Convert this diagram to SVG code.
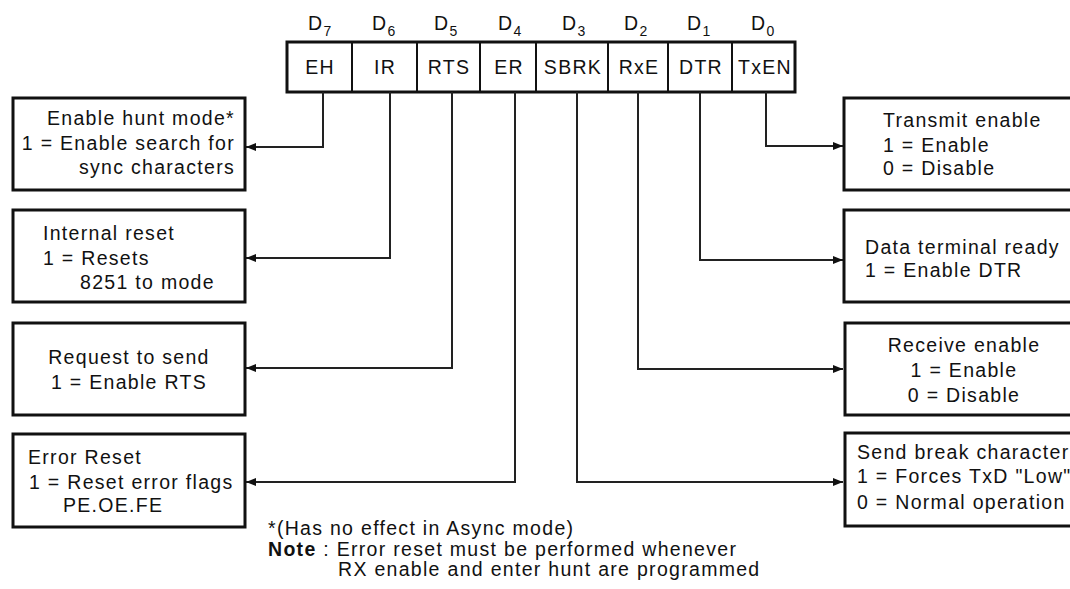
<svg xmlns="http://www.w3.org/2000/svg" width="1070" height="589" viewBox="0 0 1070 589">
<style>
text{font-family:"Liberation Sans",Arial,sans-serif;font-size:19.5px;letter-spacing:1.3px;fill:#111}
.sub{font-size:14px;letter-spacing:0}
.box{fill:#fff;stroke:#111;stroke-width:3}
.div{stroke:#111;stroke-width:2}
.conn{fill:none;stroke:#222;stroke-width:2}
.m{text-anchor:middle}
.e{text-anchor:end}
.b{font-weight:bold}
</style>
<defs>
<marker id="ah" viewBox="0 0 10 8" refX="10" refY="4" markerWidth="10" markerHeight="8" markerUnits="userSpaceOnUse" orient="auto">
<path d="M0,0 L10,4 L0,8 z" fill="#111"/>
</marker>
</defs>
<rect width="1070" height="589" fill="#fff"/>

<g id="register">
<rect class="box" x="287" y="42" width="508" height="50"/>
<line class="div" x1="352" y1="42" x2="352" y2="92"/>
<line class="div" x1="417" y1="42" x2="417" y2="92"/>
<line class="div" x1="480" y1="42" x2="480" y2="92"/>
<line class="div" x1="536" y1="42" x2="536" y2="92"/>
<line class="div" x1="608" y1="42" x2="608" y2="92"/>
<line class="div" x1="668" y1="42" x2="668" y2="92"/>
<line class="div" x1="732" y1="42" x2="732" y2="92"/>
<text class="m" x="320" y="74">EH</text>
<text class="m" x="385" y="74">IR</text>
<text class="m" x="449" y="74">RTS</text>
<text class="m" x="509" y="74">ER</text>
<text class="m" x="573" y="74">SBRK</text>
<text class="m" x="639" y="74">RxE</text>
<text class="m" x="701" y="74">DTR</text>
<text class="m" x="765" y="74">TxEN</text>
<text x="308" y="30">D<tspan class="sub" dx="0" dy="6">7</tspan></text>
<text x="372" y="30">D<tspan class="sub" dx="0" dy="6">6</tspan></text>
<text x="434" y="30">D<tspan class="sub" dx="0" dy="6">5</tspan></text>
<text x="498" y="30">D<tspan class="sub" dx="0" dy="6">4</tspan></text>
<text x="562" y="30">D<tspan class="sub" dx="0" dy="6">3</tspan></text>
<text x="624" y="30">D<tspan class="sub" dx="0" dy="6">2</tspan></text>
<text x="687" y="30">D<tspan class="sub" dx="0" dy="6">1</tspan></text>
<text x="751" y="30">D<tspan class="sub" dx="0" dy="6">0</tspan></text>
</g>

<g id="connectors">
<path class="conn" d="M323,92 V147 H246" marker-end="url(#ah)"/>
<path class="conn" d="M390,92 V258 H246" marker-end="url(#ah)"/>
<path class="conn" d="M452,92 V368 H246" marker-end="url(#ah)"/>
<path class="conn" d="M515,92 V482 H246" marker-end="url(#ah)"/>
<path class="conn" d="M577,92 V482 H843" marker-end="url(#ah)"/>
<path class="conn" d="M638,92 V369 H843" marker-end="url(#ah)"/>
<path class="conn" d="M700,92 V260 H843" marker-end="url(#ah)"/>
<path class="conn" d="M766,92 V146 H843" marker-end="url(#ah)"/>
</g>

<g id="eh-box">
<rect class="box" x="13" y="98" width="232" height="92"/>
<text class="e" x="235" y="125">Enable hunt mode*</text>
<text class="e" x="235" y="150">1 = Enable search for</text>
<text class="e" x="235" y="174">sync characters</text>
</g>

<g id="ir-box">
<rect class="box" x="13" y="210" width="232" height="92"/>
<text x="43" y="240">Internal reset</text>
<text x="43" y="265">1 = Resets</text>
<text x="80" y="289">8251 to mode</text>
</g>

<g id="rts-box">
<rect class="box" x="13" y="323" width="232" height="92"/>
<text class="m" x="129" y="364">Request to send</text>
<text class="m" x="129" y="389">1 = Enable RTS</text>
</g>

<g id="er-box">
<rect class="box" x="13" y="434" width="232" height="93"/>
<text x="28" y="464">Error Reset</text>
<text x="29" y="489">1 = Reset error flags</text>
<text x="63" y="512">PE.OE.FE</text>
</g>

<g id="txen-box">
<rect class="box" x="844" y="98" width="240" height="92"/>
<text x="883" y="127">Transmit enable</text>
<text x="883" y="152">1 = Enable</text>
<text x="883" y="175">0 = Disable</text>
</g>

<g id="dtr-box">
<rect class="box" x="844" y="210" width="240" height="92"/>
<text x="865" y="254">Data terminal ready</text>
<text x="865" y="277">1 = Enable DTR</text>
</g>

<g id="rxe-box">
<rect class="box" x="845" y="323" width="240" height="92"/>
<text class="m" x="964" y="352">Receive enable</text>
<text class="m" x="964" y="377">1 = Enable</text>
<text class="m" x="964" y="402">0 = Disable</text>
</g>

<g id="sbrk-box">
<rect class="box" x="845" y="433" width="240" height="93"/>
<text x="857" y="459">Send break character</text>
<text x="857" y="483">1 = Forces TxD "Low"</text>
<text x="857" y="509">0 = Normal operation</text>
</g>

<g id="notes">
<text x="268" y="535">*(Has no effect in Async mode)</text>
<text x="268" y="556"><tspan class="b">Note</tspan> : Error reset must be performed whenever</text>
<text x="338" y="576">RX enable and enter hunt are programmed</text>
</g>
</svg>
